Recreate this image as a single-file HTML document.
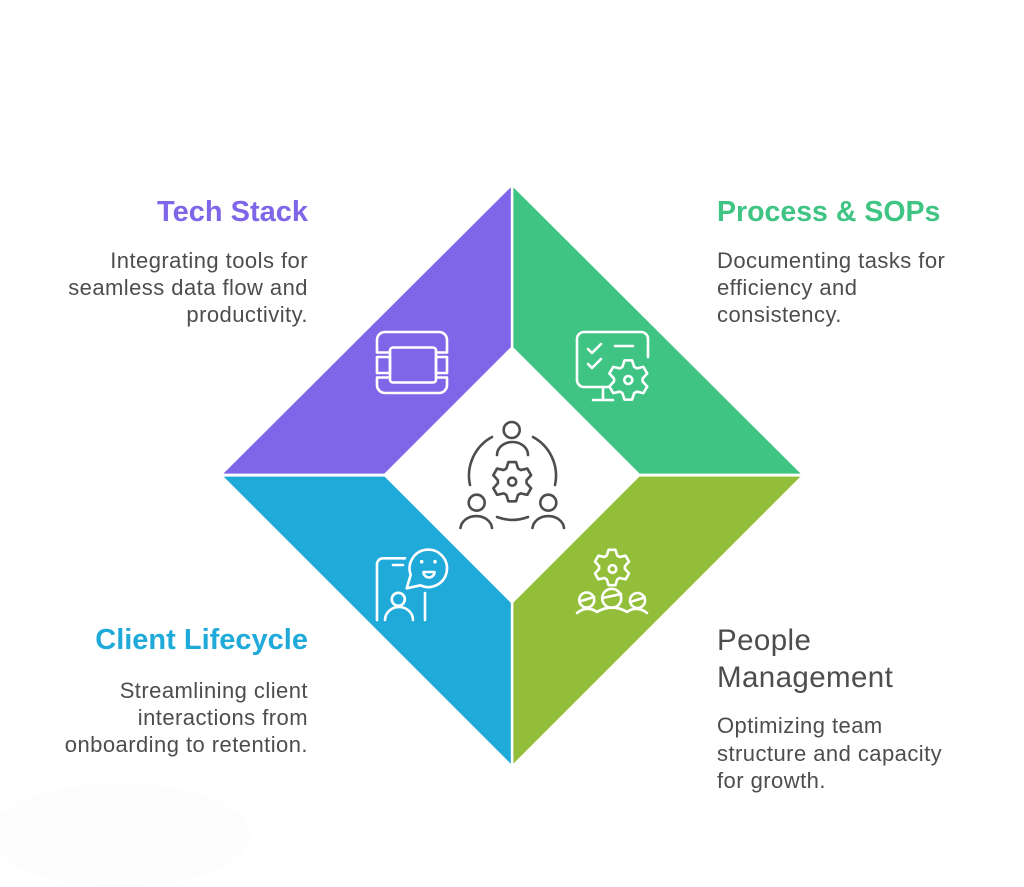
<!DOCTYPE html>
<html>
<head>
<meta charset="utf-8">
<style>
  html,body{margin:0;padding:0;background:#ffffff;}
  svg{display:block;}
  .t{font-family:"Liberation Sans",Arial,sans-serif;}
</style>
</head>
<body>
<svg width="1024" height="887" viewBox="0 0 1024 887" xmlns="http://www.w3.org/2000/svg">
  <rect width="1024" height="887" fill="#ffffff"/>
  <ellipse cx="120" cy="835" rx="130" ry="52" fill="#fdfdfd"/>

  <!-- Diamond quadrants -->
  <polygon points="512,186 222,475 512,475" fill="#7f66e9"/>
  <polygon points="512,186 802,475 512,475" fill="#3fc484"/>
  <polygon points="222,475 512,765 512,475" fill="#20aada"/>
  <polygon points="802,475 512,765 512,475" fill="#93be3a"/>
  <!-- white separators -->
  <rect x="510.8" y="180" width="2.6" height="590" fill="#ffffff"/>
  <rect x="215" y="473.6" width="594" height="3" fill="#ffffff"/>
  <!-- inner white diamond -->
  <polygon points="512,346 641,475 512,604 383,475" fill="#ffffff"/>

  <!-- Tech stack icon -->
  <g fill="none" stroke="#ffffff" stroke-width="2.6" stroke-linejoin="round" stroke-linecap="round">
    <path d="M390,352.5 H377 V340 A8 8 0 0 1 385 332 H439 A8 8 0 0 1 447 340 V352.5 H436"/>
    <path d="M390,377.5 H377 V385 A8 8 0 0 0 385 393 H439 A8 8 0 0 0 447 385 V377.5 H436"/>
    <rect x="390" y="347.5" width="46" height="35" rx="3"/>
    <rect x="377" y="357" width="13" height="16"/>
    <rect x="436" y="357" width="11" height="16"/>
  </g>

  <!-- Process icon -->
  <g fill="none" stroke="#ffffff" stroke-width="2.6" stroke-linejoin="round" stroke-linecap="round">
    <path d="M608,387 H584 A7 7 0 0 1 577 380 V339 A7 7 0 0 1 584 332 H641 A7 7 0 0 1 648 339 V357"/>
    <path d="M603,387 V400 M593,400 H613"/>
    <path d="M588,349 L592,353 L601,344"/>
    <path d="M588,364 L592,368 L601,359"/>
    <path d="M615,346 H633"/>
    <path transform="translate(628.3,380) scale(20)" vector-effect="non-scaling-stroke" d="M-0.2928,-0.6577 L-0.1908,-0.9816 L0.1908,-0.9816 L0.2928,-0.6577 L0.4232,-0.5825 L0.7547,-0.6561 L0.9455,-0.3256 L0.716,-0.0752 L0.716,0.0752 L0.9455,0.3256 L0.7547,0.6561 L0.4232,0.5825 L0.2928,0.6577 L0.1908,0.9816 L-0.1908,0.9816 L-0.2928,0.6577 L-0.4232,0.5825 L-0.7547,0.6561 L-0.9455,0.3256 L-0.716,0.0752 L-0.716,-0.0752 L-0.9455,-0.3256 L-0.7547,-0.6561 L-0.4232,-0.5825 Z"/>
    <circle cx="628.3" cy="380" r="4"/>
  </g>

  <!-- Client icon -->
  <g fill="none" stroke="#ffffff" stroke-width="2.6" stroke-linejoin="round" stroke-linecap="round">
    <path d="M405,558.3 H383 A6 6 0 0 0 377 564.3 V620"/>
    <path d="M393,565 H403"/>
    <path d="M425,593 V620"/>
    <path d="M420.4,585.3 A18.7 18.7 0 1 0 410.7,574.7 L406.7,588.3 Z"/>
    <path d="M423.5,572 H434.5 A5.5 5.5 0 0 1 423.5,572 Z"/>
    <circle cx="398.3" cy="599.3" r="6.5"/>
    <path d="M385,620 A14 13 0 0 1 413,620"/>
  </g>
  <circle cx="421.7" cy="561.7" r="1.8" fill="#ffffff"/>
  <circle cx="435" cy="561.7" r="1.8" fill="#ffffff"/>

  <!-- People icon -->
  <g fill="none" stroke="#ffffff" stroke-width="2.6" stroke-linejoin="round" stroke-linecap="round">
    <path transform="translate(612,567.5) scale(18)" vector-effect="non-scaling-stroke" d="M-0.2928,-0.6577 L-0.1908,-0.9816 L0.1908,-0.9816 L0.2928,-0.6577 L0.4232,-0.5825 L0.7547,-0.6561 L0.9455,-0.3256 L0.716,-0.0752 L0.716,0.0752 L0.9455,0.3256 L0.7547,0.6561 L0.4232,0.5825 L0.2928,0.6577 L0.1908,0.9816 L-0.1908,0.9816 L-0.2928,0.6577 L-0.4232,0.5825 L-0.7547,0.6561 L-0.9455,0.3256 L-0.716,0.0752 L-0.716,-0.0752 L-0.9455,-0.3256 L-0.7547,-0.6561 L-0.4232,-0.5825 Z"/>
    <circle cx="612.5" cy="569" r="3.8"/>
    <circle cx="586.7" cy="600" r="7.5"/>
    <path d="M579.5,601.5 L594,597"/>
    <circle cx="611.7" cy="598.3" r="9.5"/>
    <path d="M602.5,598 L621,594"/>
    <circle cx="637.5" cy="600.5" r="7.5"/>
    <path d="M630.2,602 L644.7,597.5"/>
    <path d="M577,613 Q587,605 597,612 Q612,603 627,612 Q637,605 647,613"/>
  </g>

  <!-- Center icon -->
  <g fill="none" stroke="#4d4d4d" stroke-width="2.6" stroke-linejoin="round" stroke-linecap="round">
    <circle cx="511.7" cy="430" r="8"/>
    <path d="M497,455 A15.5 13 0 0 1 528,455"/>
    <circle cx="476.7" cy="502.7" r="8"/>
    <path d="M460.5,528 A15.8 13 0 0 1 492,528"/>
    <circle cx="548.3" cy="502.7" r="8"/>
    <path d="M532.5,528 A15.8 13 0 0 1 564,528"/>
    <path d="M492,437 A44 44 0 0 0 470,485"/>
    <path d="M533,437 A44 44 0 0 1 555,485"/>
    <path d="M497,517 A44 44 0 0 0 528,517"/>
    <path transform="translate(512.2,481.7) scale(20)" vector-effect="non-scaling-stroke" d="M-0.2928,-0.6577 L-0.1908,-0.9816 L0.1908,-0.9816 L0.2928,-0.6577 L0.4232,-0.5825 L0.7547,-0.6561 L0.9455,-0.3256 L0.716,-0.0752 L0.716,0.0752 L0.9455,0.3256 L0.7547,0.6561 L0.4232,0.5825 L0.2928,0.6577 L0.1908,0.9816 L-0.1908,0.9816 L-0.2928,0.6577 L-0.4232,0.5825 L-0.7547,0.6561 L-0.9455,0.3256 L-0.716,0.0752 L-0.716,-0.0752 L-0.9455,-0.3256 L-0.7547,-0.6561 L-0.4232,-0.5825 Z"/>
    <circle cx="512.2" cy="481.7" r="4"/>
  </g>

  <!-- Tech Stack text -->
  <text class="t" x="308" y="221" text-anchor="end" font-size="29" font-weight="bold" fill="#7f66e9">Tech Stack</text>
  <g class="t" font-size="22" fill="#4d4d4d" text-anchor="end" letter-spacing="0.45">
    <text x="308" y="268">Integrating tools for</text>
    <text x="308" y="295">seamless data flow and</text>
    <text x="308" y="322">productivity.</text>
  </g>

  <!-- Process text -->
  <text class="t" x="717" y="221" font-size="28.5" font-weight="bold" fill="#3fc484">Process &amp; SOPs</text>
  <g class="t" font-size="22" fill="#4d4d4d" letter-spacing="0.45">
    <text x="717" y="268">Documenting tasks for</text>
    <text x="717" y="295">efficiency and</text>
    <text x="717" y="322">consistency.</text>
  </g>

  <!-- Client Lifecycle text -->
  <text class="t" x="308" y="649" text-anchor="end" font-size="29" font-weight="bold" fill="#20aada">Client Lifecycle</text>
  <g class="t" font-size="22" fill="#4d4d4d" text-anchor="end" letter-spacing="0.45">
    <text x="308" y="698">Streamlining client</text>
    <text x="308" y="725">interactions from</text>
    <text x="308" y="752">onboarding to retention.</text>
  </g>

  <!-- People Management text -->
  <g class="t" font-size="29.5" fill="#4d4d4d" letter-spacing="0.4">
    <text x="717" y="650">People</text>
    <text x="717" y="687">Management</text>
  </g>
  <g class="t" font-size="22" fill="#4d4d4d" letter-spacing="0.45">
    <text x="717" y="733">Optimizing team</text>
    <text x="717" y="761">structure and capacity</text>
    <text x="717" y="788">for growth.</text>
  </g>
</svg>
</body>
</html>
